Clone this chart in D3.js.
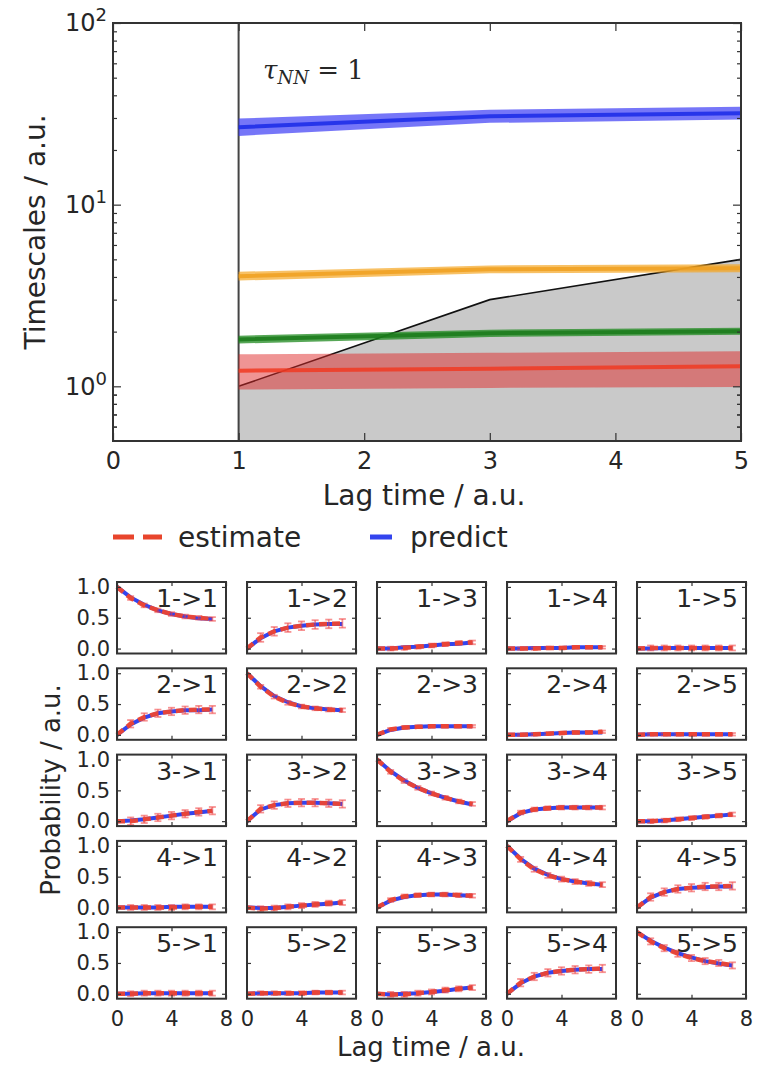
<!DOCTYPE html>
<html>
<head>
<meta charset="utf-8">
<script src="https://cdn.jsdelivr.net/npm/d3@7"></script>
<style>
  body { margin: 0; background: #fff; }
  text { font-family: "DejaVu Sans", sans-serif; fill: #262626; }
  .axis path { display: none; }
  .axis line { stroke: #333; stroke-width: 1.2; }
</style>
</head>
<body>
<svg width="763" height="1067"></svg>
<script>
// ---- top panel: implied timescales ----
var lagTop = [1, 3, 5];
var tsBlue = [26.7, 30.7, 31.9], tsBlueLo = [23.9, 28.2, 29.4], tsBlueHi = [29.8, 33.3, 34.6];
var tsOrange = [4.04, 4.41, 4.47], tsOrangeLo = [3.82, 4.19, 4.25], tsOrangeHi = [4.27, 4.63, 4.70];
var tsGreen = [1.81, 1.96, 2.01], tsGreenLo = [1.72, 1.87, 1.92], tsGreenHi = [1.90, 2.05, 2.10];
var tsRed = [1.22, 1.25, 1.29], tsRedLo = [0.96, 0.98, 0.99], tsRedHi = [1.50, 1.53, 1.56];
var lagLine = [1, 3, 5];
var yTickTop = [0, 1, 2];        // exponents of 10
var xTickTop = [0, 1, 2, 3, 4, 5];

// ---- bottom panels: transition probabilities ----
var states = [1, 2, 3, 4, 5];
var lagSmall = [0, 1, 2, 3, 4, 5, 6, 7];
var xTickSmall = [0, 4, 8];
var yTickSmall = [0, 0.5, 1];
var estimate = [
  [1.00, 0.82, 0.70, 0.62, 0.56, 0.52, 0.50, 0.48],
  [0.00, 0.18, 0.28, 0.34, 0.37, 0.39, 0.40, 0.41],
  [0.00, 0.00, 0.01, 0.03, 0.05, 0.07, 0.09, 0.10],
  [0.00, 0.00, 0.00, 0.01, 0.01, 0.02, 0.02, 0.02],
  [0.00, 0.01, 0.01, 0.01, 0.01, 0.01, 0.01, 0.01],
  [0.00, 0.18, 0.29, 0.35, 0.38, 0.40, 0.41, 0.41],
  [1.00, 0.78, 0.62, 0.52, 0.46, 0.43, 0.41, 0.40],
  [0.00, 0.09, 0.12, 0.13, 0.14, 0.14, 0.14, 0.14],
  [0.00, 0.00, 0.01, 0.02, 0.03, 0.04, 0.04, 0.05],
  [0.00, 0.01, 0.01, 0.01, 0.01, 0.01, 0.01, 0.01],
  [0.00, 0.00, 0.03, 0.06, 0.09, 0.12, 0.15, 0.17],
  [0.00, 0.20, 0.26, 0.29, 0.30, 0.30, 0.29, 0.28],
  [1.00, 0.80, 0.65, 0.54, 0.45, 0.38, 0.32, 0.28],
  [0.00, 0.14, 0.19, 0.21, 0.22, 0.22, 0.22, 0.22],
  [0.00, 0.00, 0.01, 0.03, 0.05, 0.07, 0.09, 0.11],
  [0.00, 0.00, 0.00, 0.00, 0.00, 0.01, 0.01, 0.01],
  [0.00, -0.02, -0.01, 0.01, 0.03, 0.05, 0.07, 0.08],
  [0.00, 0.12, 0.18, 0.20, 0.21, 0.21, 0.20, 0.19],
  [1.00, 0.78, 0.62, 0.52, 0.46, 0.42, 0.39, 0.37],
  [0.00, 0.17, 0.25, 0.30, 0.32, 0.34, 0.34, 0.35],
  [0.00, 0.00, 0.01, 0.01, 0.01, 0.01, 0.01, 0.01],
  [0.00, 0.01, 0.01, 0.01, 0.01, 0.02, 0.02, 0.02],
  [0.00, -0.01, -0.01, 0.01, 0.03, 0.06, 0.08, 0.10],
  [0.00, 0.18, 0.28, 0.34, 0.37, 0.39, 0.40, 0.41],
  [1.00, 0.85, 0.74, 0.65, 0.58, 0.53, 0.50, 0.46]
];
var predict = [
  [1.00, 0.83, 0.71, 0.62, 0.56, 0.52, 0.49, 0.48],
  [0.00, 0.17, 0.28, 0.34, 0.37, 0.39, 0.40, 0.40],
  [0.00, 0.00, 0.02, 0.03, 0.05, 0.07, 0.08, 0.10],
  [0.00, 0.00, 0.01, 0.01, 0.01, 0.02, 0.02, 0.02],
  [0.00, 0.00, 0.01, 0.01, 0.01, 0.01, 0.01, 0.01],
  [0.00, 0.17, 0.28, 0.35, 0.38, 0.40, 0.40, 0.41],
  [1.00, 0.79, 0.63, 0.53, 0.46, 0.43, 0.41, 0.40],
  [0.00, 0.08, 0.12, 0.13, 0.14, 0.14, 0.14, 0.14],
  [0.00, 0.00, 0.01, 0.02, 0.03, 0.04, 0.04, 0.04],
  [0.00, 0.01, 0.01, 0.01, 0.01, 0.01, 0.01, 0.01],
  [0.00, 0.01, 0.03, 0.06, 0.09, 0.12, 0.14, 0.17],
  [0.00, 0.19, 0.26, 0.29, 0.30, 0.30, 0.29, 0.28],
  [1.00, 0.81, 0.66, 0.54, 0.45, 0.38, 0.32, 0.27],
  [0.00, 0.13, 0.19, 0.21, 0.22, 0.22, 0.22, 0.22],
  [0.00, 0.00, 0.01, 0.03, 0.05, 0.07, 0.09, 0.11],
  [0.00, 0.00, 0.00, 0.00, 0.01, 0.01, 0.01, 0.01],
  [0.00, -0.01, -0.01, 0.01, 0.03, 0.05, 0.06, 0.08],
  [0.00, 0.11, 0.17, 0.20, 0.21, 0.21, 0.20, 0.19],
  [1.00, 0.79, 0.63, 0.53, 0.46, 0.42, 0.39, 0.37],
  [0.00, 0.16, 0.25, 0.30, 0.32, 0.33, 0.34, 0.34],
  [0.00, 0.00, 0.01, 0.01, 0.01, 0.01, 0.01, 0.01],
  [0.00, 0.01, 0.01, 0.01, 0.01, 0.02, 0.02, 0.02],
  [0.00, -0.01, 0.00, 0.01, 0.03, 0.05, 0.08, 0.10],
  [0.00, 0.17, 0.28, 0.34, 0.37, 0.39, 0.40, 0.40],
  [1.00, 0.86, 0.75, 0.66, 0.59, 0.53, 0.49, 0.46]
];
var estimateErr = [
  0.03, 0.07, 0.03, 0.02, 0.04,
  0.06, 0.03, 0.02, 0.02, 0.02,
  0.06, 0.06, 0.03, 0.03, 0.03,
  0.04, 0.04, 0.03, 0.04, 0.06,
  0.04, 0.03, 0.04, 0.06, 0.05
];

var svg = d3.select("svg");

// ================= top chart =================
var mTop = {left: 113, top: 23}, wTop = 628, hTop = 418;
var gT = svg.append("g").attr("transform", "translate(" + mTop.left + "," + mTop.top + ")");
var x = d3.scaleLinear().domain([0, 5]).range([0, wTop]);
var y = d3.scaleLog().domain([0.5, 100]).range([hTop, 0]);

// grey region under the lag time line
gT.append("path")
    .datum(lagLine)
    .attr("d", d3.area().x(function(d, i) { return x(lagTop[i]); }).y0(hTop).y1(function(d) { return y(d); }))
    .attr("fill", "#c9c9c9");
gT.append("path")
    .datum(lagLine)
    .attr("d", d3.line().x(function(d, i) { return x(lagTop[i]); }).y(function(d) { return y(d); }))
    .attr("fill", "none").attr("stroke", "#111").attr("stroke-width", 1.6);
gT.append("line")
    .attr("x1", x(1)).attr("x2", x(1)).attr("y1", 0).attr("y2", hTop)
    .attr("stroke", "#444").attr("stroke-width", 2);

var bands = [
  {mid: tsRed, lo: tsRedLo, hi: tsRedHi, fill: "#e02a2a", line: "#f03a22", fo: 0.5},
  {mid: tsGreen, lo: tsGreenLo, hi: tsGreenHi, fill: "#1f8a1f", line: "#1a7a1a", fo: 0.75},
  {mid: tsOrange, lo: tsOrangeLo, hi: tsOrangeHi, fill: "#f5a623", line: "#f0a020", fo: 0.7},
  {mid: tsBlue, lo: tsBlueLo, hi: tsBlueHi, fill: "#3c3cf5", line: "#1a2ae8", fo: 0.7}
];
bands.forEach(function(b) {
  gT.append("path")
      .datum(lagTop)
      .attr("d", d3.area()
        .x(function(d) { return x(d); })
        .y0(function(d, i) { return y(b.lo[i]); })
        .y1(function(d, i) { return y(b.hi[i]); }))
      .attr("fill", b.fill).attr("fill-opacity", b.fo);
  gT.append("path")
      .datum(b.mid)
      .attr("d", d3.line().x(function(d, i) { return x(lagTop[i]); }).y(function(d) { return y(d); }))
      .attr("fill", "none").attr("stroke", b.line).attr("stroke-width", 4).attr("stroke-opacity", 0.85);
});

// axes, ticks pointing inward on all sides
var minor = [];
[0.1, 1, 10].forEach(function(p) { d3.range(2, 10).forEach(function(k) { var v = p * k; if (v > 0.5 && v < 100) minor.push(v); }); });
minor.push(0.6); minor.push(0.7); minor.push(0.8); minor.push(0.9);

var yLeft = gT.append("g").attr("class", "axis")
    .call(d3.axisLeft(y).tickValues(yTickTop.map(function(e) { return Math.pow(10, e); })).tickSize(-8).tickPadding(6));
yLeft.selectAll(".tick text").text(null).style("font-size", "24px")
    .each(function(d, i) {
      var t = d3.select(this);
      t.append("tspan").text("10");
      t.append("tspan").attr("dy", "-0.55em").style("font-size", "18px").text(yTickTop[i]);
    });
gT.append("g").attr("class", "axis")
    .call(d3.axisLeft(y).tickValues(minor).tickSize(-4).tickFormat(""));
gT.append("g").attr("class", "axis").attr("transform", "translate(" + wTop + ",0)")
    .call(d3.axisRight(y).tickValues(yTickTop.map(function(e) { return Math.pow(10, e); })).tickSize(-8).tickFormat(""));
gT.append("g").attr("class", "axis").attr("transform", "translate(" + wTop + ",0)")
    .call(d3.axisRight(y).tickValues(minor).tickSize(-4).tickFormat(""));
gT.append("g").attr("class", "axis").attr("transform", "translate(0," + hTop + ")")
    .call(d3.axisBottom(x).tickValues(xTickTop).tickSize(-8).tickPadding(11).tickFormat(d3.format("d")))
    .selectAll("text").style("font-size", "24px");
gT.append("g").attr("class", "axis")
    .call(d3.axisTop(x).tickValues(xTickTop).tickSize(-8).tickFormat(""));
gT.append("rect").attr("width", wTop).attr("height", hTop)
    .attr("fill", "none").attr("stroke", "#333").attr("stroke-width", 2);

var tau = gT.append("text").attr("x", 150).attr("y", 56)
    .style("font-family", "'DejaVu Serif', serif").style("font-size", "26px");
tau.append("tspan").style("font-style", "italic").text("τ");
tau.append("tspan").attr("dy", 5).style("font-style", "italic").style("font-size", "18px").text("NN");
tau.append("tspan").attr("dy", -5).text(" = 1");

svg.append("text").attr("transform", "translate(45,232) rotate(-90)")
    .attr("text-anchor", "middle").style("font-size", "28px").text("Timescales / a.u.");
svg.append("text").attr("x", 424).attr("y", 505)
    .attr("text-anchor", "middle").style("font-size", "28px").text("Lag time / a.u.");

// legend
var lg = svg.append("g");
lg.append("line").attr("x1", 113).attr("x2", 162).attr("y1", 537).attr("y2", 537)
    .attr("stroke", "#e8452c").attr("stroke-width", 5).attr("stroke-dasharray", "21,9");
lg.append("text").attr("x", 178).attr("y", 547).style("font-size", "28px").text("estimate");
lg.append("line").attr("x1", 370).attr("x2", 392).attr("y1", 537).attr("y2", 537)
    .attr("stroke", "#3344ee").attr("stroke-width", 5);
lg.append("text").attr("x", 410).attr("y", 547).style("font-size", "28px").text("predict");

// ================= grid of small panels =================
var pw = 109, ph = 71.5, px0 = 117, py0 = 582, pdx = 130, pdy = 86.3;
var sx = d3.scaleLinear().domain([0, 8]).range([0, pw]);
var sy = d3.scaleLinear().domain([-0.08, 1.08]).range([ph, 0]);
var line = d3.line().x(function(d, i) { return sx(lagSmall[i]); }).y(function(d) { return sy(d); });

states.forEach(function(from, r) {
  states.forEach(function(to, c) {
    var k = r * 5 + c;
    var g = svg.append("g").attr("transform", "translate(" + (px0 + c * pdx) + "," + (py0 + r * pdy) + ")");

    g.append("path").datum(predict[k]).attr("d", line)
        .attr("fill", "none").attr("stroke", "#3344ee").attr("stroke-width", 4);
    var err = estimateErr[k];
    var eb = g.append("g").attr("stroke", "#f03a3a").attr("stroke-opacity", 0.55).attr("stroke-width", 1.8);
    estimate[k].forEach(function(v, i) {
      if (i === 0) return;
      var xx = sx(lagSmall[i]);
      eb.append("line").attr("x1", xx).attr("x2", xx).attr("y1", sy(v - err)).attr("y2", sy(v + err));
      eb.append("line").attr("x1", xx - 3.5).attr("x2", xx + 3.5).attr("y1", sy(v - err)).attr("y2", sy(v - err));
      eb.append("line").attr("x1", xx - 3.5).attr("x2", xx + 3.5).attr("y1", sy(v + err)).attr("y2", sy(v + err));
    });
    g.append("path").datum(estimate[k]).attr("d", line)
        .attr("fill", "none").attr("stroke", "#ee4430").attr("stroke-width", 4.5)
        .attr("stroke-dasharray", "8,5").attr("stroke-opacity", 0.95);

    var ya = g.append("g").attr("class", "axis")
        .call(d3.axisLeft(sy).tickValues(yTickSmall).tickSize(-4).tickPadding(7).tickFormat(d3.format(".1f")));
    ya.selectAll("text").style("font-size", "21px");
    if (c > 0) ya.selectAll("text").remove();
    g.append("g").attr("class", "axis").attr("transform", "translate(" + pw + ",0)")
        .call(d3.axisRight(sy).tickValues(yTickSmall).tickSize(-4).tickFormat(""));
    var xa = g.append("g").attr("class", "axis").attr("transform", "translate(0," + ph + ")")
        .call(d3.axisBottom(sx).tickValues(xTickSmall).tickSize(-4).tickPadding(12).tickFormat(d3.format("d")));
    xa.selectAll("text").style("font-size", "21px");
    if (r < 4) xa.selectAll("text").remove();
    g.append("g").attr("class", "axis")
        .call(d3.axisTop(sx).tickValues(xTickSmall).tickSize(-4).tickFormat(""));
    g.append("rect").attr("width", pw).attr("height", ph)
        .attr("fill", "none").attr("stroke", "#333").attr("stroke-width", 2);
    g.append("text").attr("x", pw - 8).attr("y", 25).attr("text-anchor", "end")
        .style("font-size", "25px").text(from + "->" + to);
  });
});

svg.append("text").attr("transform", "translate(60,790) rotate(-90)")
    .attr("text-anchor", "middle").style("font-size", "26px").text("Probability / a.u.");
svg.append("text").attr("x", 431).attr("y", 1056)
    .attr("text-anchor", "middle").style("font-size", "26px").text("Lag time / a.u.");
</script>
</body>
</html>
